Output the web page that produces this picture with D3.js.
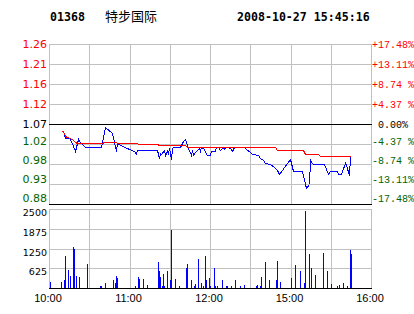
<!DOCTYPE html>
<html>
<head>
<meta charset="utf-8">
<script src="https://cdn.jsdelivr.net/npm/d3@7"></script>
<style>
  body { margin: 0; background: #fff; }
  svg { display: block; }
</style>
</head>
<body>
<div id="vis"></div>
<script>
// datos del grafico intradia (01368 特步国际, 2008-10-27)
const stockCode = "01368";
const stockName = "特步国际";
const stamp = "2008-10-27 15:45:16";
const prevClose = 1.07;

// precio (linea azul)
const priceTimes = ["10:09","10:11","10:12","10:15","10:17","10:20","10:22","10:23","10:27","10:39",
  "10:42","10:47","10:49","10:50","10:51","10:52","11:00","11:04","11:05","11:06",
  "11:21","11:22","11:23","11:24","11:26","11:27","11:28","11:29","11:30","11:31",
  "11:32","11:33","11:38","11:40","11:42","11:43","11:44","11:46","11:47","11:48",
  "11:49","11:51","11:52","11:53","11:54","11:56","11:57","11:58","12:00","12:01",
  "12:04","12:05","12:06","12:08","12:09","12:10","12:11","12:12","12:14","12:15",
  "12:17","12:18","12:26","12:27","12:30","14:32","14:36","14:38","14:40","14:41",
  "14:45","14:48","14:50","14:52","15:00","15:02","15:09","15:11","15:12","15:14",
  "15:15","15:16","15:17","15:25","15:28","15:30","15:35","15:36","15:38","15:41",
  "15:42","15:44","15:45"];
const prices = [1.053,1.053,1.037,1.036,1.030,1.006,1.034,1.030,1.016,1.016,
  1.062,1.047,1.026,1.006,1.024,1.022,1.011,1.005,0.998,1.007,
  1.007,0.989,1.002,0.998,1.008,0.997,1.005,1.002,1.012,0.987,
  1.012,1.016,1.016,1.028,1.034,1.020,1.012,0.997,1.008,0.997,
  1.004,1.008,1.012,1.006,1.014,1.011,1.003,0.997,0.997,1.006,
  1.006,1.014,1.014,1.008,1.012,1.014,1.011,1.014,1.016,1.012,
  1.006,1.014,1.014,1.011,1.004,0.998,0.997,0.990,0.985,0.977,
  0.975,0.969,0.962,0.951,0.987,0.959,0.959,0.928,0.920,0.928,
  0.987,0.981,0.975,0.975,0.951,0.959,0.959,0.951,0.951,0.977,
  0.973,0.950,0.992];

// precio medio (linea roja)
const avgTimes = ["10:09","10:11","10:12","10:14","10:16","10:18","10:20","10:21","10:40","10:41",
  "10:50","10:51","11:06","11:07","11:21","11:22","11:42","11:43","14:34","14:35",
  "14:49","14:50","15:10","15:11","15:21","15:22","15:45"];
const avgPrices = [1.053,1.053,1.040,1.038,1.036,1.031,1.027,1.025,1.025,1.027,
  1.027,1.025,1.025,1.022,1.022,1.019,1.019,1.016,1.016,1.014,
  1.014,1.0085,1.0085,0.998,0.998,0.993,0.993];

// volumen
const volTimes = ["10:01","10:09","10:11","10:12","10:14","10:16","10:18","10:19","10:20","10:22",
  "10:28","10:38","10:39","10:42","10:48","10:49","10:50","10:51","11:04","11:06",
  "11:07","11:10","11:13","11:21","11:22","11:23","11:24","11:25","11:26","11:28",
  "11:30","11:31","11:34","11:37","11:42","11:43","11:46","11:48","11:49","11:51",
  "11:53","11:55","11:56","11:57","11:59","12:00","12:03","12:04","12:05","12:09",
  "12:12","12:13","12:16","12:19","12:22","12:25","14:34","14:35","14:37","14:38",
  "14:41","14:44","14:49","14:50","14:52","15:00","15:03","15:07","15:10","15:11",
  "15:14","15:15","15:18","15:24","15:27","15:30","15:35","15:36","15:39","15:42",
  "15:44","15:45"];
const volumes = [180,180,265,1000,560,390,1310,1245,390,340,
  770,75,75,170,265,160,390,330,75,350,
  285,285,95,830,550,350,75,450,75,550,
  265,1850,295,75,645,770,265,75,115,930,
  170,75,1025,265,330,75,645,75,75,265,
  75,75,75,265,75,105,75,105,75,350,
  830,265,265,865,200,330,740,550,170,2450,
  1090,645,420,1120,550,135,75,105,170,75,
  1210,1090];

// ejes
const priceLabels = ["1.26","1.21","1.16","1.12","1.07","1.02","0.98","0.93","0.88"];
const pctLabels = ["+17.48%","+13.11%","+8.74 %","+4.37 %"," 0.00%","-4.37 %","-8.74 %","-13.11%","-17.48%"];
const pctSteps = [4,3,2,1,0,-1,-2,-3,-4];
const volTicks = [2500,1875,1250,625];
const gridTimes = ["10:00","10:30","11:00","11:30","12:00","12:30","15:00","15:30","16:00"];
const timeLabels = ["10:00","11:00","12:00","15:00","16:00"];

const toMin = s => { const p = s.split(":"); return +p[0] * 60 + +p[1]; };

const W = 414, H = 314;
const L = 49, R = 371;
const pTop = 44, pBot = 204, vTop = 209, vBot = 288;
const GRID = "#c0c0c0", RED = "#ff0000", GREEN = "#006400", BLUE = "#0000ff";

const svg = d3.select("#vis").append("svg")
  .attr("width", W).attr("height", H)
  .style("background", "#fff");

// escala de tiempo con pausa de mediodia (12:30 = 14:30)
const x = d3.scaleLinear()
  .domain([toMin("10:00"), toMin("12:30"), toMin("14:30"), toMin("16:00")])
  .range([L, L + (R - L) * 150 / 240, L + (R - L) * 150 / 240, R]);

const yP = d3.scaleLinear()
  .domain([prevClose * (1 - 4 * 0.0437), prevClose * (1 + 4 * 0.0437)])
  .range([pBot, pTop]);

const yV = d3.scaleLinear().domain([0, 2500]).range([vBot, vTop]);

const crisp = v => Math.round(v) + 0.5;

const g = svg.append("g").attr("shape-rendering", "crispEdges");

// rejilla vertical
[[pTop, pBot], [vTop, vBot]].forEach(([a, b]) => {
  g.selectAll(null).data(gridTimes).enter().append("line")
    .attr("x1", d => crisp(x(toMin(d)))).attr("x2", d => crisp(x(toMin(d))))
    .attr("y1", a).attr("y2", b)
    .attr("stroke", GRID);
});

// rejilla horizontal precio
g.selectAll(null).data(pctSteps).enter().append("line")
  .attr("x1", L).attr("x2", R + 1)
  .attr("y1", d => crisp(yP(prevClose * (1 + d * 0.0437))))
  .attr("y2", d => crisp(yP(prevClose * (1 + d * 0.0437))))
  .attr("stroke", d => (d === 0 || d === -4) ? "#000" : GRID);

// rejilla horizontal volumen
g.selectAll(null).data(volTicks).enter().append("line")
  .attr("x1", L).attr("x2", R + 1)
  .attr("y1", d => crisp(yV(d))).attr("y2", d => crisp(yV(d)))
  .attr("stroke", GRID);
g.append("line")
  .attr("x1", L).attr("x2", R + 1)
  .attr("y1", crisp(yV(0))).attr("y2", crisp(yV(0)))
  .attr("stroke", "#000");

// barras de volumen
g.selectAll("rect.vol").data(volTimes).enter().append("rect")
  .attr("class", "vol")
  .attr("x", d => Math.round(x(toMin(d))))
  .attr("y", (d, i) => Math.round(yV(volumes[i])))
  .attr("width", 1)
  .attr("height", (d, i) => Math.round(yV(0)) - Math.round(yV(volumes[i])))
  .attr("fill", BLUE);

// lineas de precio
const line = d3.line()
  .x(d => crisp(x(toMin(d[0])) - 0.5))
  .y(d => crisp(yP(d[1]) - 0.5));

g.append("path")
  .datum(priceTimes.map((t, i) => [t, prices[i]]))
  .attr("d", line)
  .attr("fill", "none").attr("stroke", BLUE).attr("stroke-width", 1);

g.append("path")
  .datum(avgTimes.map((t, i) => [t, avgPrices[i]]))
  .attr("d", line)
  .attr("fill", "none").attr("stroke", RED).attr("stroke-width", 1);

// etiquetas del eje de precio
const labColor = s => s > 0 ? RED : (s === 0 ? "#000" : GREEN);
const labDy = s => s >= 0 ? 4 : 2 + s;

svg.selectAll("text.pl").data(pctSteps).enter().append("text")
  .attr("class", "pl")
  .attr("x", L - 2)
  .attr("y", d => yP(prevClose * (1 + d * 0.0437)) + labDy(d))
  .attr("text-anchor", "end")
  .attr("font-family", "DejaVu Sans, Verdana, sans-serif")
  .attr("font-size", 11)
  .attr("fill", labColor)
  .text((d, i) => priceLabels[i]);

svg.selectAll("text.pr").data(pctSteps).enter().append("text")
  .attr("class", "pr")
  .attr("x", R + 1)
  .attr("y", d => yP(prevClose * (1 + d * 0.0437)) + labDy(d))
  .attr("font-family", "Liberation Mono, Courier New, monospace")
  .attr("font-size", 10)
  .style("white-space", "pre")
  .attr("fill", labColor)
  .text((d, i) => pctLabels[i]);

// etiquetas de volumen
svg.selectAll("text.vl").data(volTicks).enter().append("text")
  .attr("class", "vl")
  .attr("x", L - 2)
  .attr("y", d => yV(d) + 7)
  .attr("text-anchor", "end")
  .attr("font-family", "DejaVu Sans, Verdana, sans-serif")
  .attr("font-size", 9.5)
  .attr("fill", "#000")
  .text(d => d);

// etiquetas de tiempo
svg.selectAll("text.tl").data(timeLabels).enter().append("text")
  .attr("class", "tl")
  .attr("x", d => x(toMin(d)) - 1)
  .attr("y", 302)
  .attr("text-anchor", "middle")
  .attr("font-family", "Liberation Sans, Arial, sans-serif")
  .attr("font-size", 11)
  .attr("fill", "#000")
  .text(d => d);

// cabecera
const head = svg.append("g").attr("fill", "#000");
head.append("text")
  .attr("x", 50).attr("y", 20.5)
  .attr("font-family", "DejaVu Sans Mono, monospace")
  .attr("font-weight", "bold").attr("font-size", 11.6)
  .text(stockCode);
head.append("text")
  .attr("x", 105).attr("y", 20.5)
  .attr("font-family", "Noto Sans CJK SC, sans-serif")
  .attr("font-size", 13)
  .text(stockName);
head.append("text")
  .attr("x", 237).attr("y", 20.5)
  .attr("font-family", "DejaVu Sans Mono, monospace")
  .attr("font-weight", "bold").attr("font-size", 11.6)
  .text(stamp);
</script>
</body>
</html>
